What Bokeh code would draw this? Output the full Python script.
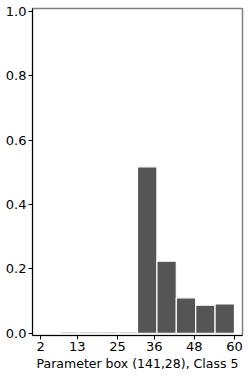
from bokeh.plotting import figure
from bokeh.models import Range1d, FixedTicker, ColumnDataSource, CustomJSTickFormatter
from bokeh.embed import file_html
from bokeh.resources import INLINE

bin_left = [2, 7.8, 13.6, 19.4, 25.2, 31.0, 36.8, 42.6, 48.4, 54.2]
bin_right = [7.8, 13.6, 19.4, 25.2, 31.0, 36.8, 42.6, 48.4, 54.2, 60]
freq = [0.0, 0.004, 0.004, 0.004, 0.004, 0.517, 0.224, 0.110, 0.087, 0.091]
x_ticks = [2, 13, 25, 36, 48, 60]
y_ticks = [0.0, 0.2, 0.4, 0.6, 0.8, 1.0]
x_label = "Parameter box (141,28), Class 5"

src = ColumnDataSource(dict(left=bin_left, right=bin_right, top=freq))

p = figure(width=250, height=377, output_backend="svg", toolbar_location=None,
           x_range=Range1d(-0.4, 62.4), y_range=Range1d(-0.007, 1.009),
           min_border_left=32, min_border_right=8, min_border_top=8, min_border_bottom=42,
           styles={"position": "absolute", "left": "0px", "top": "0px"})

p.quad(left="left", right="right", top="top", bottom=0, source=src,
       fill_color="#555555", line_color="white", line_width=1.2)

p.xgrid.visible = False
p.ygrid.visible = False
p.outline_line_color = "#808080"
p.outline_line_width = 1.5
p.background_fill_color = "white"
p.border_fill_color = "white"

p.xaxis.ticker = FixedTicker(ticks=x_ticks)
p.yaxis.ticker = FixedTicker(ticks=y_ticks)
p.yaxis.formatter = CustomJSTickFormatter(code="return tick.toFixed(1);")
for ax in (p.xaxis[0], p.yaxis[0]):
    ax.axis_line_color = "black"
    ax.axis_line_width = 1
    ax.major_tick_line_color = "black"
    ax.major_tick_in = 0
    ax.major_tick_out = 4
    ax.minor_tick_line_color = None
    ax.major_label_text_font = "DejaVu Sans"
    ax.major_label_text_font_size = "13px"
    ax.major_label_text_color = "black"
p.yaxis.major_label_standoff = 2
p.xaxis.major_label_standoff = 2
p.xaxis.axis_label = x_label
p.xaxis.axis_label_text_font = "DejaVu Sans"
p.xaxis.axis_label_text_font_size = "12.5px"
p.xaxis.axis_label_text_font_style = "normal"
p.xaxis.axis_label_text_color = "black"
p.xaxis.axis_label_standoff = 2

open("out.html", "w").write(file_html(p, INLINE))
